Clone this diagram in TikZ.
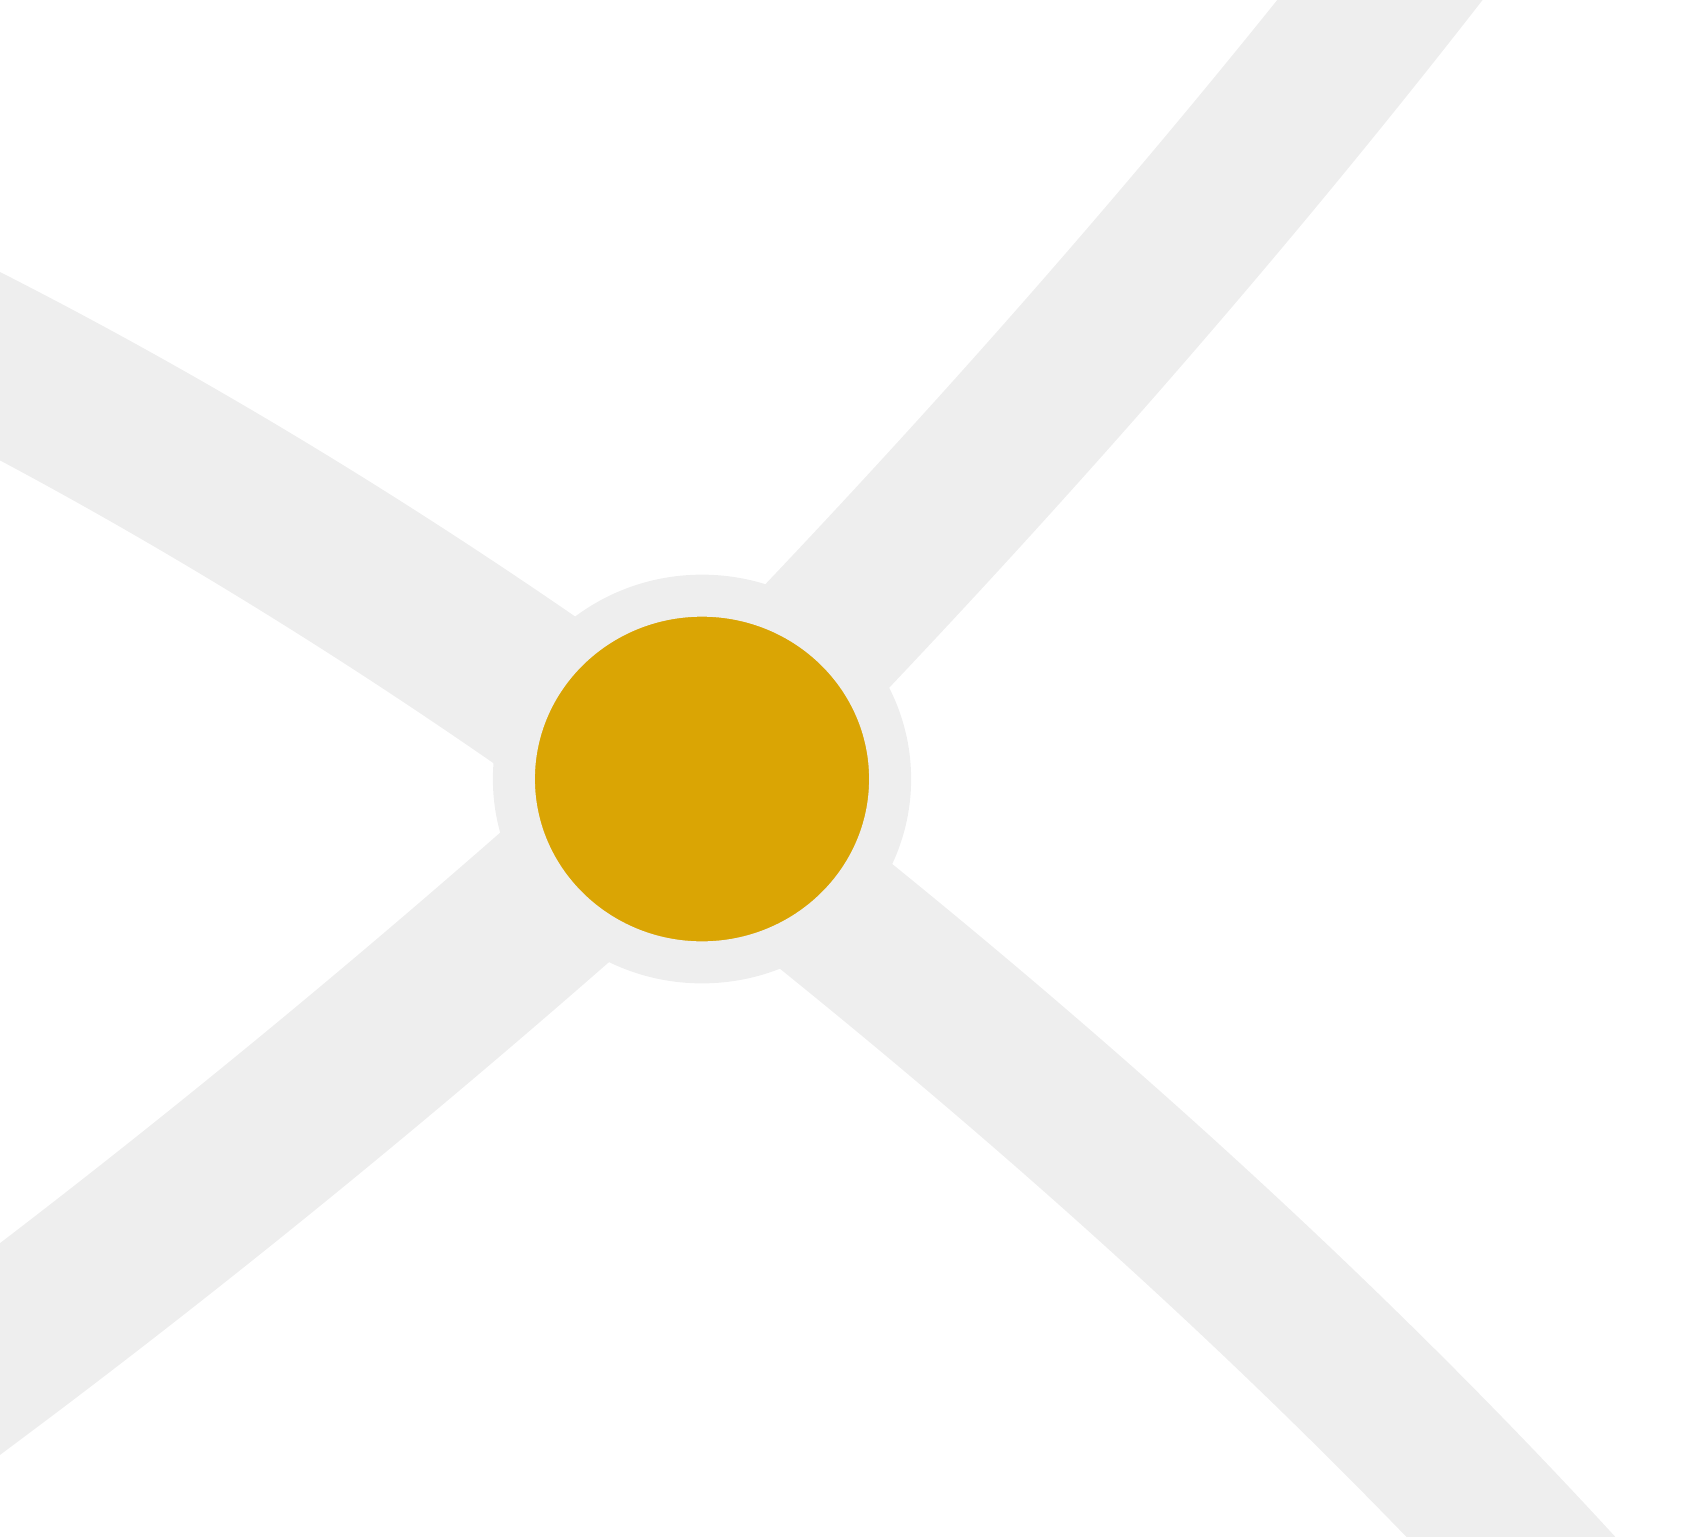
\documentclass[tikz,border=0pt]{standalone}
\usetikzlibrary{shapes.geometric,backgrounds}

\def\frameBox{(0, 0) rectangle (1706, 1536)}
\definecolor{band grey}{HTML}{EEEEEE}
\definecolor{hub gold}{HTML}{DAA504}
\tikzset{
  halo/.style={draw=band grey, line width=0.42cm},
  filled/.style={fill=hub gold, halo}
  }
\tikzstyle{edge} = [draw=band grey, line width=1.65cm, -]
\tikzstyle{vertex}=[ellipse,filled,minimum width=3.76cm,minimum height=3.665cm,inner sep=0pt]

\begin{document}
\begin{tikzpicture}[x=0.01cm, y=-0.01cm]
  \useasboundingbox \frameBox;

  \node[vertex] (hub) at (702, 779) {};

  % free ends, outside the frame
  \coordinate (nw) at (-100, 315.5);
  \coordinate (ne) at (1458, -100);
  \coordinate (sw) at (-100, 1423.6);
  \coordinate (se) at (1602.5, 1636);

  \begin{scope}[on background layer]
    \clip \frameBox;
    \foreach \shift/\ctrlA/\ctrlB/\tip/\wd in {{-0.31cm/(434.7, 611.5)/(167.3, 446)/nw/1.67cm},
        {0.13cm/(984.7, 477.3)/(1237, 188.7)/ne/1.61cm},
        {0.13cm/(434, 1009)/(167, 1228.2)/sw/1.69cm},
        {-0.31cm/(1056.1, 1085.3)/(1356.2, 1360.7)/se/1.52cm}} {
      \draw[edge, line width=\wd] ([yshift=\shift]hub.center) .. controls \ctrlA and \ctrlB .. (\tip);
    }
  \end{scope}
\end{tikzpicture}
\end{document}
